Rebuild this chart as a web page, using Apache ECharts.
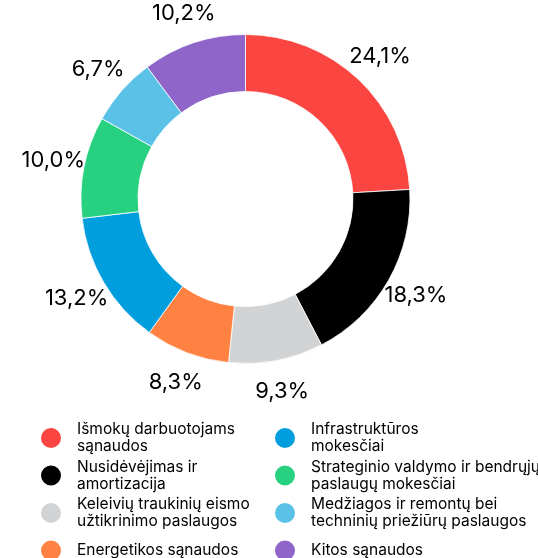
<!DOCTYPE html>
<html>
<head>
<meta charset="utf-8">
<script src="https://cdn.jsdelivr.net/npm/echarts@6/dist/echarts.min.js"></script>
<style>
  html, body { margin: 0; padding: 0; background: #fff; }
  #chart { width: 538px; height: 558px; }
</style>
</head>
<body>
<div id="chart"></div>
<script>
// kategorijos (pagal laikrodžio rodyklę nuo viršaus)
const categories = [
    'Išmokų darbuotojams\nsąnaudos',
    'Nusidėvėjimas ir\namortizacija',
    'Keleivių traukinių eismo\nužtikrinimo paslaugos',
    'Energetikos sąnaudos',
    'Infrastruktūros\nmokesčiai',
    'Strateginio valdymo ir bendrųjų\npaslaugų mokesčiai',
    'Medžiagos ir remontų bei\ntechninių priežiūrų paslaugos',
    'Kitos sąnaudos'
];
const shares = [24.1, 18.3, 9.3, 8.3, 13.2, 10.0, 6.7, 10.2];
const colors = ['#fb4541', '#000000', '#d1d3d4', '#ff8243', '#009edd', '#27d17f', '#5bc2e7', '#8f65c9'];

const chart = echarts.init(document.getElementById('chart'));

const pieData = categories.map((name, i) => ({ name: name, value: shares[i] }));
const fmt = (p) => p.value.toFixed(1).replace('.', ',') + '%';

const legendBase = {
    orient: 'vertical',
    top: 421,
    height: 200,
    padding: 0,
    itemWidth: 22,
    itemHeight: 22,
    itemGap: 3.5,
    icon: 'circle',
    selectedMode: false,
    textStyle: {
        fontFamily: 'Inter',
        fontSize: 15.5,
        lineHeight: 17,
        height: 34,
        color: '#000',
        padding: [0, 0, 0, 10]
    }
};

const option = {
    color: colors,
    legend: [
        Object.assign({}, legendBase, { left: 39, data: categories.slice(0, 4) }),
        Object.assign({}, legendBase, { left: 273, data: categories.slice(4) })
    ],
    series: [
        {
            type: 'pie',
            center: [245.5, 199],
            radius: [107.5, 164.5],
            startAngle: 90,
            avoidLabelOverlap: false,
            silent: true,
            itemStyle: { borderColor: '#fff', borderWidth: 0.8 },
            label: { show: false },
            labelLine: { show: false },
            data: pieData
        },
        {
            // nematomas žiedas tik procentų užrašams
            type: 'pie',
            center: [245.5, 199],
            radius: [183, 203],
            startAngle: 90,
            silent: true,
            avoidLabelOverlap: false,
            itemStyle: { color: 'rgba(0,0,0,0)' },
            label: {
                show: true,
                position: 'inside',
                formatter: fmt,
                fontFamily: 'Inter',
                fontSize: 22,
                color: '#000'
            },
            labelLine: { show: false },
            data: pieData
        }
    ]
};

chart.setOption(option);
</script>
</body>
</html>
